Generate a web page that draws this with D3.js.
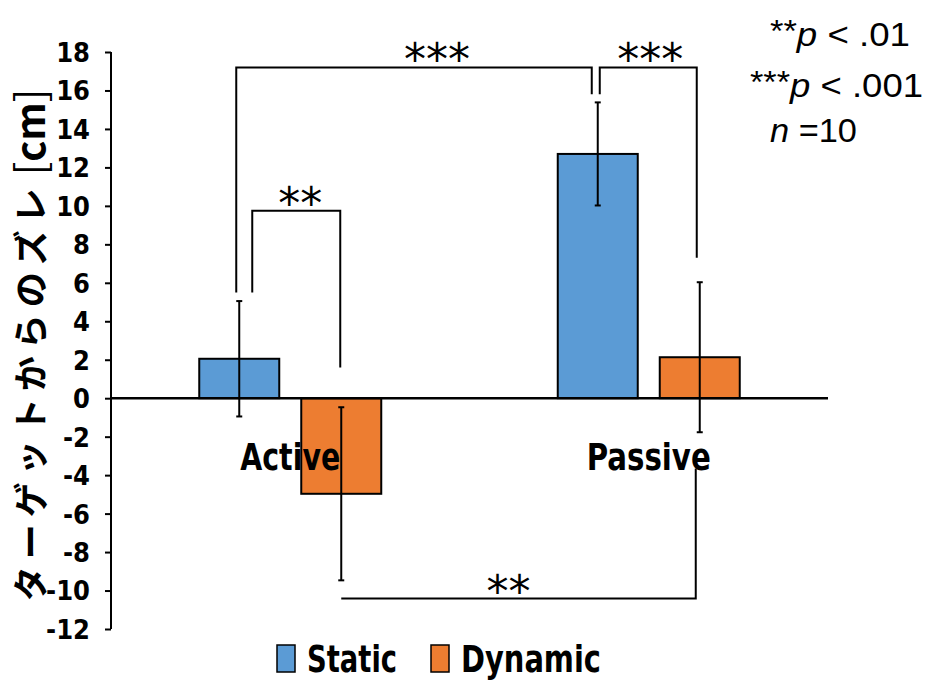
<!DOCTYPE html>
<html>
<head>
<meta charset="utf-8">
<script src="https://cdn.jsdelivr.net/npm/d3@7"></script>
<style>
  html, body { margin: 0; padding: 0; background: #fff; }
  svg { display: block; }
  .narrow { font-family: "Liberation Sans Narrow", "DejaVu Sans Condensed", "Arial Narrow", sans-serif; }
</style>
</head>
<body>
<svg id="chart" width="933" height="681"></svg>
<script>
// Conditions on the x axis and the two series drawn in each group
const categories = ["Active", "Passive"];
const series = ["Static", "Dynamic"];
// Mean deviation from the target [cm] and its SD, per series, in category order
const staticMeans = [2.05, 12.7];
const staticSD = [3.0, 2.68];
const dynamicMeans = [-4.97, 2.13];
const dynamicSD = [4.5, 3.9];
const yTicks = [-12, -10, -8, -6, -4, -2, 0, 2, 4, 6, 8, 10, 12, 14, 16, 18];
const colors = ["#5B9BD5", "#ED7D31"];

// Significance brackets: which bars they join, the height of the bar line and leg ends (cm)
const brackets = [
  { a: ["Active", "Static"], b: ["Active", "Dynamic"], level: 9.75, endA: 5.5, endB: 1.6, label: "**" },
  { a: ["Active", "Static"], b: ["Passive", "Static"], level: 17.2, endA: 5.5, endB: 15.8, label: "***" },
  { a: ["Passive", "Static"], b: ["Passive", "Dynamic"], level: 17.2, endA: 15.8, endB: 7.3, label: "***" },
  { a: ["Active", "Dynamic"], b: ["Passive", "Dynamic"], level: -10.42, endA: -10.42, endB: -3.65, label: "**" }
];
// Sideways nudge of each bracket's legs from the bar centres, and of its stars (px)
const legShift = [[13, -1], [-3, -6], [2, -3], [0, -4]];
const starShift = [4, 23, 2, -10];

const rows = [];
categories.forEach((c, i) => {
  rows.push({ cat: c, ser: "Static", mean: staticMeans[i], sd: staticSD[i] });
  rows.push({ cat: c, ser: "Dynamic", mean: dynamicMeans[i], sd: dynamicSD[i] });
});

const svg = d3.select("#chart");
const y = d3.scaleLinear().domain([-12, 18]).range([629, 52]);
const x0 = d3.scaleBand().domain(categories).range([111, 828]);
const x1 = d3.scaleBand().domain(series).range([-91, 91]).paddingInner(22 / 102);
const color = d3.scaleOrdinal().domain(series).range(colors);
const cx = (c, s) => x0(c) + x0.bandwidth() / 2 + x1(s) + x1.bandwidth() / 2;

// Bars
svg.append("g").selectAll("rect").data(rows).join("rect")
  .attr("x", d => x0(d.cat) + x0.bandwidth() / 2 + x1(d.ser))
  .attr("width", x1.bandwidth())
  .attr("y", d => y(Math.max(0, d.mean)))
  .attr("height", d => Math.abs(y(d.mean) - y(0)))
  .attr("fill", d => color(d.ser))
  .attr("stroke", "#000").attr("stroke-width", 2);

// Y axis
const yAxis = svg.append("g").attr("transform", "translate(111,0)")
  .call(d3.axisLeft(y).tickValues(yTicks).tickSize(6).tickPadding(15).tickFormat(d => String(d)));
yAxis.select(".domain").attr("stroke", "#000").attr("stroke-width", 2).attr("d", `M0,${y(18)}V${y(-12)}`);
yAxis.selectAll(".tick line").attr("stroke", "#000").attr("stroke-width", 2);
yAxis.selectAll(".tick text").attr("class", "narrow").attr("font-size", 27).attr("font-weight", "bold")
  .attr("fill", "#000").attr("dy", "0.35em");

// Zero line
svg.append("line").attr("x1", 111).attr("x2", 828).attr("y1", y(0)).attr("y2", y(0))
  .attr("stroke", "#000").attr("stroke-width", 2.5);

// Error bars
const eb = svg.append("g").attr("stroke", "#000").attr("stroke-width", 2);
rows.forEach(d => {
  const px = cx(d.cat, d.ser);
  eb.append("line").attr("x1", px).attr("x2", px).attr("y1", y(d.mean + d.sd)).attr("y2", y(d.mean - d.sd));
  [d.mean + d.sd, d.mean - d.sd].forEach(v =>
    eb.append("line").attr("x1", px - 3).attr("x2", px + 3).attr("y1", y(v)).attr("y2", y(v)));
});

// Category labels
svg.append("g").selectAll("text").data(categories).join("text")
  .attr("class", "narrow")
  .attr("x", d => x0(d) + x0.bandwidth() / 2)
  .attr("y", 470)
  .attr("text-anchor", "middle")
  .attr("font-size", 38).attr("font-weight", "bold")
  .attr("textLength", d => d === "Active" ? 100 : 124).attr("lengthAdjust", "spacingAndGlyphs")
  .text(d => d);

// Significance brackets
const bg = svg.append("g");
brackets.forEach((b, i) => {
  const xa = cx(b.a[0], b.a[1]) + legShift[i][0];
  const xb = cx(b.b[0], b.b[1]) + legShift[i][1];
  const yl = y(b.level);
  bg.append("path")
    .attr("d", `M${xa},${y(b.endA)}V${yl}H${xb}V${y(b.endB)}`)
    .attr("fill", "none").attr("stroke", "#000").attr("stroke-width", 2);
  bg.append("text")
    .attr("x", (xa + xb) / 2 + starShift[i]).attr("y", yl + 8)
    .attr("text-anchor", "middle")
    .attr("font-family", "'DejaVu Sans', sans-serif")
    .attr("font-size", 44)
    .text(b.label);
});

// Y axis title
const title = svg.append("text")
  .attr("transform", "translate(28,345) rotate(-90)")
  .attr("text-anchor", "middle").attr("dominant-baseline", "central")
  .attr("font-family", "'Noto Sans CJK JP', sans-serif")
  .attr("font-weight", "bold").attr("font-size", 35);
title.append("tspan").attr("letter-spacing", 7).text("ターゲットからのズレ");
const unit = title.append("tspan").attr("dx", 6).attr("font-size", 40);
unit.append("tspan").attr("font-weight", "normal").text("[");
unit.append("tspan").text("cm");
unit.append("tspan").attr("font-weight", "normal").text("]");

// Legend
const lg = svg.append("g");
const legendX = [277, 431];
series.forEach((s, i) => {
  lg.append("rect").attr("x", legendX[i]).attr("y", 645).attr("width", 18).attr("height", 27)
    .attr("fill", color(s)).attr("stroke", "#000").attr("stroke-width", 1.5);
  lg.append("text").attr("class", "narrow")
    .attr("x", legendX[i] + 30).attr("y", 672)
    .attr("font-size", 38).attr("font-weight", "bold")
    .attr("textLength", i === 0 ? 90 : 140).attr("lengthAdjust", "spacingAndGlyphs")
    .text(s);
});

// Significance note
const note = svg.append("g").attr("font-family", "'Liberation Sans', 'Open Sans', sans-serif").attr("font-size", 34);
const noteLines = [
  { stars: "**", sym: "p", rest: " < .01", x: 770, y: 46, len: 140 },
  { stars: "***", sym: "p", rest: " < .001", x: 750, y: 97, len: 173 },
  { stars: "", sym: "n", rest: " =10", x: 770, y: 142, len: 87 }
];
noteLines.forEach(l => {
  const t = note.append("text").attr("x", l.x).attr("y", l.y)
    .attr("textLength", l.len).attr("lengthAdjust", "spacingAndGlyphs");
  if (l.stars) t.append("tspan").attr("font-size", 32).attr("dy", -4).text(l.stars);
  t.append("tspan").attr("font-style", "italic").attr("dy", l.stars ? 4 : 0).text(l.sym);
  t.append("tspan").text(l.rest);
});
</script>
</body>
</html>
